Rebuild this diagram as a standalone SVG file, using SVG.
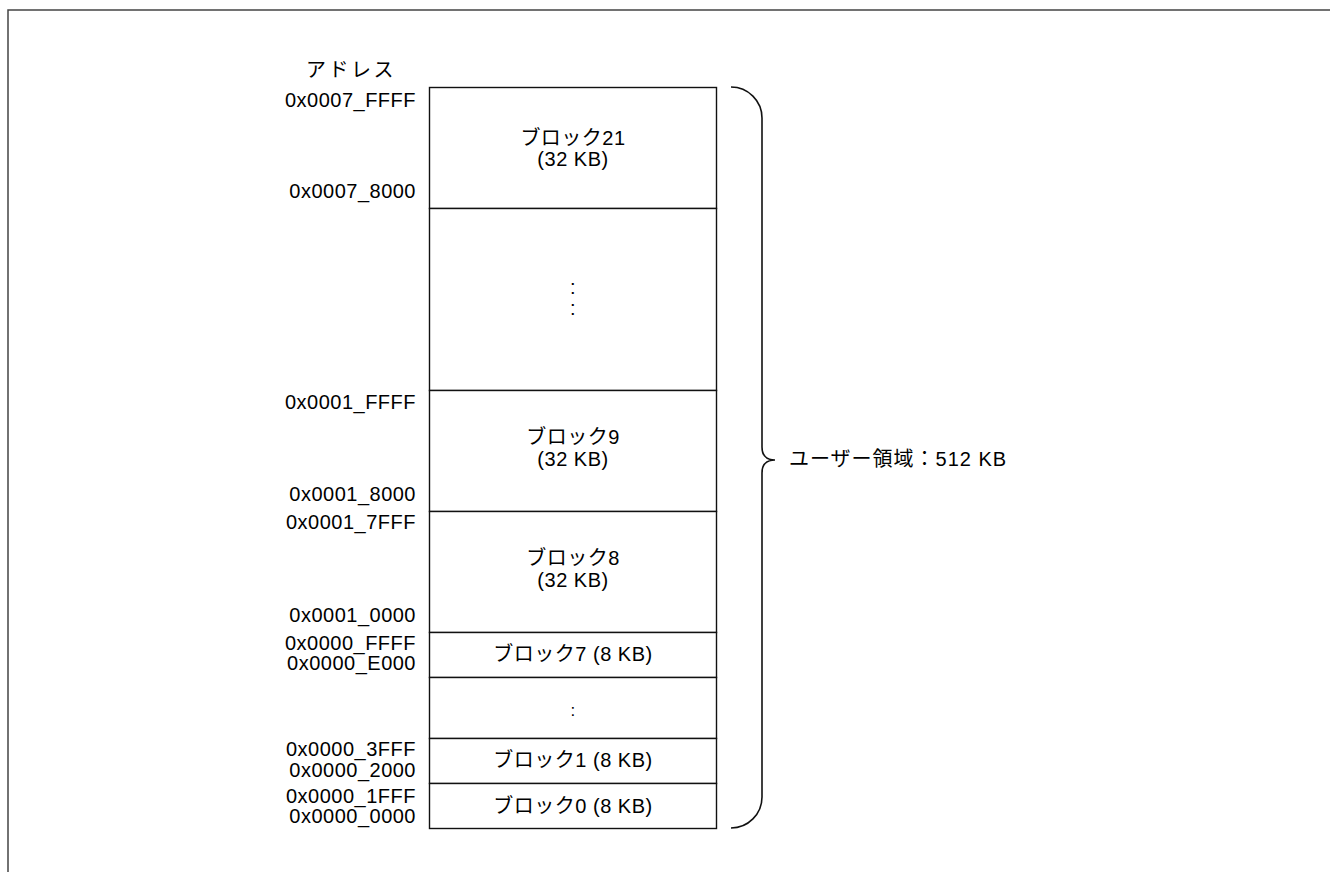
<svg xmlns="http://www.w3.org/2000/svg" width="1330" height="872" viewBox="0 0 1330 872">
<style>
.t{font-family:"Liberation Sans","Noto Sans CJK JP",sans-serif;font-size:20px;fill:#000;letter-spacing:0.5px}
.a{text-anchor:end}
.c{text-anchor:middle}
.blk{fill:#fff;stroke:#111;stroke-width:1.4}
.br{fill:none;stroke:#111;stroke-width:1.6}
</style>
<rect x="8" y="10" width="1400" height="900" fill="#fff" stroke="#444" stroke-width="1.5"/>
<text class="t c" x="351" y="77" style="letter-spacing:2.5px">アドレス</text>
<g id="block21">
<rect class="blk" x="429.5" y="87.5" width="287" height="121"/>
<text class="t c" x="573" y="145">ブロック21</text>
<text class="t c" x="573" y="166">(32 KB)</text>
</g>
<g id="blocks-mid">
<rect class="blk" x="429.5" y="208.5" width="287" height="182"/>
<text class="t c" x="573" y="294">:</text>
<text class="t c" x="573" y="315">:</text>
</g>
<g id="block9">
<rect class="blk" x="429.5" y="390.5" width="287" height="121"/>
<text class="t c" x="573" y="444">ブロック9</text>
<text class="t c" x="573" y="466">(32 KB)</text>
</g>
<g id="block8">
<rect class="blk" x="429.5" y="511.5" width="287" height="121"/>
<text class="t c" x="573" y="565">ブロック8</text>
<text class="t c" x="573" y="587">(32 KB)</text>
</g>
<g id="block7">
<rect class="blk" x="429.5" y="632.5" width="287" height="45"/>
<text class="t c" x="573" y="661">ブロック7 (8 KB)</text>
</g>
<g id="blocks-low">
<rect class="blk" x="429.5" y="677.5" width="287" height="61"/>
<text class="t c" x="573" y="716" style="font-size:17px">:</text>
</g>
<g id="block1">
<rect class="blk" x="429.5" y="738.5" width="287" height="45"/>
<text class="t c" x="573" y="767">ブロック1 (8 KB)</text>
</g>
<g id="block0">
<rect class="blk" x="429.5" y="783.5" width="287" height="45"/>
<text class="t c" x="573" y="813">ブロック0 (8 KB)</text>
</g>
<g id="addresses">
<text class="t a" x="416" y="107">0x0007_FFFF</text>
<text class="t a" x="416" y="198">0x0007_8000</text>
<text class="t a" x="416" y="409">0x0001_FFFF</text>
<text class="t a" x="416" y="501">0x0001_8000</text>
<text class="t a" x="416" y="529">0x0001_7FFF</text>
<text class="t a" x="416" y="622">0x0001_0000</text>
<text class="t a" x="416" y="650">0x0000_FFFF</text>
<text class="t a" x="416" y="670">0x0000_E000</text>
<text class="t a" x="416" y="756">0x0000_3FFF</text>
<text class="t a" x="416" y="777">0x0000_2000</text>
<text class="t a" x="416" y="803">0x0000_1FFF</text>
<text class="t a" x="416" y="823">0x0000_0000</text>
</g>
<g id="connectors">
<path class="br" d="M731,87 A31,31 0 0 1 762,118 V447 Q762,460 775,460 Q762,460 762,473 V797 A31,31 0 0 1 731,828"/>
</g>
<g id="user-area">
<text class="t" x="789" y="466" style="letter-spacing:1px">ユーザー領域：512 KB</text>
</g>
</svg>
